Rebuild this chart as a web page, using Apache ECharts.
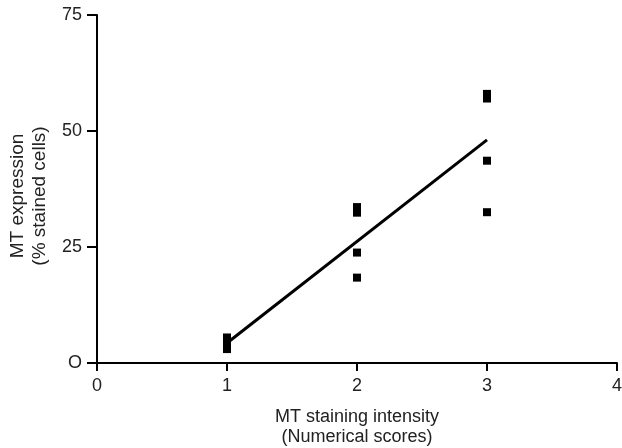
<!DOCTYPE html>
<html>
<head>
<meta charset="utf-8">
<script src="https://cdn.jsdelivr.net/npm/echarts@6/dist/echarts.min.js"></script>
<style>html,body{margin:0;padding:0;background:#fff}#c{width:622px;height:448px}</style>
</head>
<body>
<div id="c"></div>
<script>
var xTicks = [0, 1, 2, 3, 4];
var yTicks = [0, 25, 50, 75];
var yTickLabels = ['O', '25', '50', '75'];
var pointX = [1, 1, 1, 1, 2, 2, 2, 2, 3, 3, 3, 3];
var pointY = [5.5, 4.8, 3.8, 3.0, 33.6, 32.4, 23.8, 18.4, 58.0, 57.0, 43.6, 32.5];
var fitX = [1, 3];
var fitY = [4.3, 48.1];

var chart = echarts.init(document.getElementById('c'));
var font = 'Liberation Sans, Arial, sans-serif';
var txt = '#222';
chart.setOption({
  animation: false,
  backgroundColor: '#fff',
  grid: {left: 97, right: 5, top: 15, bottom: 85, containLabel: false, outerBoundsMode: 'none'},
  xAxis: {
    type: 'value', min: 0, max: 4, interval: 1,
    name: 'MT staining intensity\n(Numerical scores)',
    nameLocation: 'middle', nameGap: 44,
    nameTextStyle: {fontFamily: font, fontSize: 18, color: txt, lineHeight: 20},
    axisLine: {show: true, onZero: false, lineStyle: {color: '#000', width: 2}},
    axisTick: {show: true, length: 8, lineStyle: {color: '#000', width: 2}},
    axisLabel: {fontFamily: font, fontSize: 18, color: txt, margin: 14},
    splitLine: {show: false}
  },
  yAxis: {
    type: 'value', min: 0, max: 75, interval: 25,
    name: 'MT expression\n(% stained cells)',
    nameLocation: 'middle', nameGap: 45, nameRotate: 90,
    nameTextStyle: {fontFamily: font, fontSize: 19, color: txt, lineHeight: 22, padding: [0, 14, 0, 0]},
    axisLine: {show: true, onZero: false, lineStyle: {color: '#000', width: 2}},
    axisTick: {show: true, length: 10, lineStyle: {color: '#000', width: 2}},
    axisLabel: {fontFamily: font, fontSize: 18, color: txt, margin: 15,
      formatter: function (v) { var i = yTicks.indexOf(v); return i >= 0 ? yTickLabels[i] : ''; }},
    splitLine: {show: false}
  },
  series: [
    {
      type: 'scatter', symbol: 'rect', symbolSize: [8, 8],
      itemStyle: {color: '#000', opacity: 1},
      data: pointX.map(function (x, i) { return [x, pointY[i]]; }),
      z: 3
    },
    {
      type: 'line', showSymbol: false, symbol: 'none',
      lineStyle: {color: '#000', width: 3},
      data: fitX.map(function (x, i) { return [x, fitY[i]]; }),
      z: 2
    }
  ]
});
</script>
</body>
</html>
